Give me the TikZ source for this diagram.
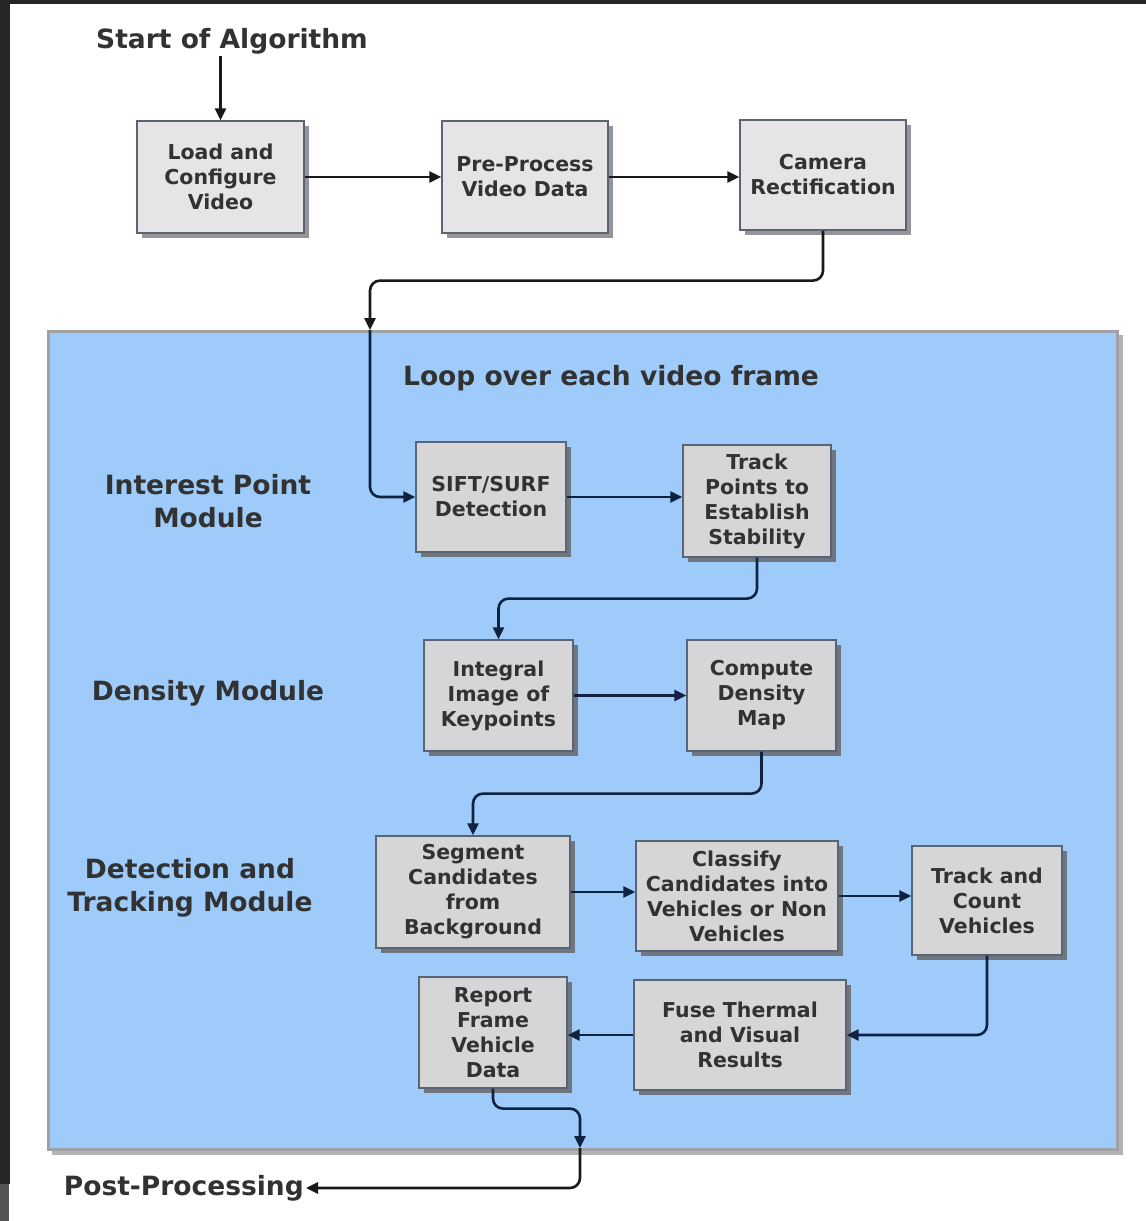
\documentclass[tikz,border=0pt]{standalone}
\usepackage{fontspec}
\setmainfont{DejaVu Sans}
\usetikzlibrary{arrows.meta,shadows}
\definecolor{bluebg}{RGB}{158,203,250}
\definecolor{blueedge}{RGB}{160,160,165}
\definecolor{boxfillA}{RGB}{229,229,229}
\definecolor{boxfillB}{RGB}{214,214,214}
\definecolor{boxborder}{RGB}{90,100,118}
\definecolor{shadowA}{RGB}{150,150,150}
\definecolor{shadowB}{RGB}{112,118,128}
\definecolor{txt}{RGB}{50,50,50}
\definecolor{navy}{RGB}{16,34,64}
\definecolor{darkframe}{RGB}{38,38,38}
\definecolor{darkframeB}{RGB}{85,85,85}
\tikzset{
  pbox/.style={draw=boxborder, line width=1.2pt, align=center, inner sep=0pt,
    font=\bfseries\fontsize{20.5}{25}\selectfont, text=txt},
  topbox/.style={pbox, fill=boxfillA,
    drop shadow={shadow xshift=5pt, shadow yshift=-5pt, fill=shadowA, opacity=1}},
  inbox/.style={pbox, fill=boxfillB,
    drop shadow={shadow xshift=5pt, shadow yshift=-5pt, fill=shadowB, opacity=1}},
  lbl/.style={align=center, font=\bfseries\fontsize{26.5}{33}\selectfont, text=txt, inner sep=2pt},
  conn/.style={line width=2.6pt, draw=black!90, rounded corners=10pt,
    -{Triangle[length=12pt,width=11pt]}},
  iconn/.style={conn, draw=navy},
}
\begin{document}
\begin{tikzpicture}[x=1pt,y=-1pt]
\useasboundingbox (0,0) rectangle (1146,1221);
\fill[white] (0,0) rectangle (1146,1221);
% dark frame of the screenshot
\fill[darkframe] (0,0) rectangle (1146,4);
\fill[darkframe] (0,0) rectangle (10,1184);
\fill[darkframeB] (0,1184) rectangle (9,1221);

% loop region
\fill[blueedge!80] (52,335) rectangle (1123,1155);
\draw[blueedge, line width=3pt, fill=bluebg] (48,331) rectangle (1117,1149);

% texts
\node[lbl] (start) at (232,41) {Start of Algorithm};
\node[lbl] (loop) at (611,378) {Loop over each video frame};
\node[lbl] (ipm) at (208,501) {Interest Point\\Module};
\node[lbl] (dm) at (208,693) {Density Module};
\node[lbl] (dtm) at (190,888) {Detection and\\Tracking Module};
\node[lbl, anchor=east] (post) at (306,1188) {Post-Processing};

% top row
\node[topbox, minimum width=167pt, minimum height=112pt] (load) at (220.5,177) {Load and\\Configure\\Video};
\node[topbox, minimum width=166pt, minimum height=112pt] (pre) at (525,177) {Pre-Process\\Video Data};
\node[topbox, minimum width=166pt, minimum height=110pt] (cam) at (823,175) {Camera\\Rectification};

% inner boxes
\node[inbox, minimum width=150pt, minimum height=110pt] (sift) at (491,497) {SIFT/SURF\\Detection};
\node[inbox, minimum width=148pt, minimum height=112pt] (track) at (757,501) {Track\\Points to\\Establish\\Stability};
\node[inbox, minimum width=149pt, minimum height=111pt] (integ) at (498.5,695.5) {Integral\\Image of\\Keypoints};
\node[inbox, minimum width=149pt, minimum height=111pt] (comp) at (761.5,695.5) {Compute\\Density\\Map};
\node[inbox, minimum width=194pt, minimum height=112pt] (seg) at (473,892) {Segment\\Candidates\\from\\Background};
\node[inbox, minimum width=202pt, minimum height=110pt] (cls) at (737,896) {Classify\\Candidates into\\Vehicles or Non\\Vehicles};
\node[inbox, minimum width=150pt, minimum height=109pt] (tc) at (987,900.5) {Track and\\Count\\Vehicles};
\node[inbox, minimum width=212pt, minimum height=110pt] (fuse) at (740,1035) {Fuse Thermal\\and Visual\\Results};
\node[inbox, minimum width=148pt, minimum height=111pt] (rep) at (493,1032.5) {Report\\Frame\\Vehicle\\Data};

\coordinate (entry) at (370,330);
\coordinate (exit) at (580,1148);

% connectors
\draw[conn] (load.north |- start.south) -- (load.north);
\draw[conn] (load.east) -- (pre.west);
\draw[conn] (pre.east) -- (pre.east -| cam.west);
\draw[conn] (cam.south) -- ++(0,50) -| (entry);
\draw[iconn] (entry) |- (sift.west);
\draw[iconn] (sift.east) -- (sift.east -| track.west);
\draw[iconn] (track.south) -- ++(0,41) -| (integ.north);
\draw[iconn] (integ.east) -- (integ.east -| comp.west);
\draw[iconn] (comp.south) -- ++(0,42) -| (seg.north);
\draw[iconn] (seg.east) -- (seg.east -| cls.west);
\draw[iconn] (cls.east) -- (cls.east -| tc.west);
\draw[iconn] (tc.south) |- (fuse.east);
\draw[iconn] (fuse.west) -- (fuse.west -| rep.east);
\draw[iconn] (rep.south) -- ++(0,20) -| (exit);
\draw[conn] (exit) |- (post.east);
\end{tikzpicture}
\end{document}
